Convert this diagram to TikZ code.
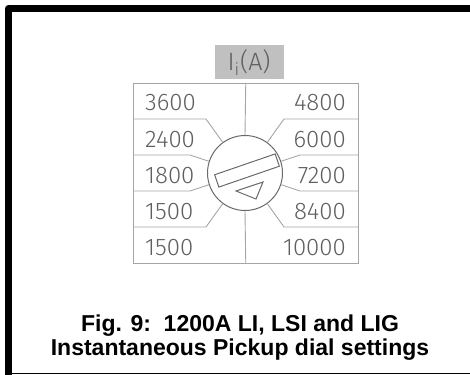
\documentclass[tikz,border=0pt]{standalone}
\usepackage{fontspec}
\setmainfont{Liberation Sans}
\newfontfamily\cadfont{Fira Sans Light}
\definecolor{tablegray}{RGB}{165,165,165}
\definecolor{dialgray}{RGB}{105,105,105}
\definecolor{txtgray}{RGB}{95,95,95}
\definecolor{hdrgray}{RGB}{192,192,192}
\begin{document}
\begin{tikzpicture}[x=1pt,y=-1pt,
  tline/.style={draw=tablegray,line width=0.9pt},
  dline/.style={draw=dialgray,line width=1pt},
  val/.style={text=txtgray,font=\cadfont\fontsize{24}{24}\selectfont,inner sep=0pt},
  capt/.style={font=\bfseries\fontsize{23}{28}\selectfont,inner sep=0pt}]
\useasboundingbox (0,0) rectangle (470,374);
% frame
\draw[line width=7pt,line join=round] (8.5,385) -- (8.5,8.5) -- (485,8.5);
\draw[line width=1pt] (8.5,373.5) -- (475,373.5);
% header
\node[fill=hdrgray,minimum width=69pt,minimum height=34pt,inner sep=0pt] (hdr) at (249.5,62) {};
\node[val,font=\cadfont\fontsize{25}{25}\selectfont,anchor=base] (hdrtext) at (249,71)
  {I\raisebox{-5pt}{\fontsize{17}{17}\selectfont i}\kern1pt(A)};
% table
\node[tline,minimum width=224.5pt,minimum height=180pt,inner sep=0pt,outer sep=0pt] (tbl) at (245.75,173) {};
\node[circle,dline,minimum size=75pt,inner sep=0pt] (dial) at (245,173) {};
\draw[tline] (tbl.north) -- (dial.north);
\draw[tline] (dial.south) -- (tbl.south);
% row separators and leaders (left)
\draw[tline] (tbl.west |- 0,119) -- (206,119) -- (dial.126);
\draw[tline] (tbl.west |- 0,155) -- (190,155) -- (dial.162);
\draw[tline] (tbl.west |- 0,191) -- (190,191) -- (dial.198);
\draw[tline] (tbl.west |- 0,227) -- (206,227) -- (dial.234);
% right
\draw[tline] (tbl.east |- 0,119) -- (284,119) -- (dial.54);
\draw[tline] (tbl.east |- 0,155) -- (300,155) -- (dial.18);
\draw[tline] (tbl.east |- 0,191) -- (300,191) -- (dial.-18);
\draw[tline] (tbl.east |- 0,227) -- (284,227) -- (dial.-54);
% dial pointer
\node[dline,draw,minimum width=64pt,minimum height=13pt,inner sep=0pt,rotate=19] (slot) at (247,170.5) {};
\coordinate (t1) at (236,191);
\coordinate (t2) at (263,182);
\coordinate (t3) at (256,199);
\draw[dline,line join=miter] (t1) -- (t2) -- (t3) -- cycle;
% values
\node[val,anchor=base west] (l1) at (145,111) {3600};
\node[val,anchor=base west] (l2) at (145,147) {2400};
\node[val,anchor=base west] (l3) at (145,183) {1800};
\node[val,anchor=base west] (l4) at (145,219) {1500};
\node[val,anchor=base west] (l5) at (145,255) {1500};
\node[val,anchor=base east] (r1) at (346,111) {4800};
\node[val,anchor=base east] (r2) at (346,147) {6000};
\node[val,anchor=base east] (r3) at (346,183) {7200};
\node[val,anchor=base east] (r4) at (346,219) {8400};
\node[val,anchor=base east] (r5) at (346,255) {10000};
% caption
\node[capt,anchor=base] (cap1) at (240,331) {Fig. 9:\ \ 1200A LI, LSI and LIG};
\node[capt,anchor=base] (cap2) at (240,355) {Instantaneous Pickup dial settings};
\end{tikzpicture}
\end{document}
